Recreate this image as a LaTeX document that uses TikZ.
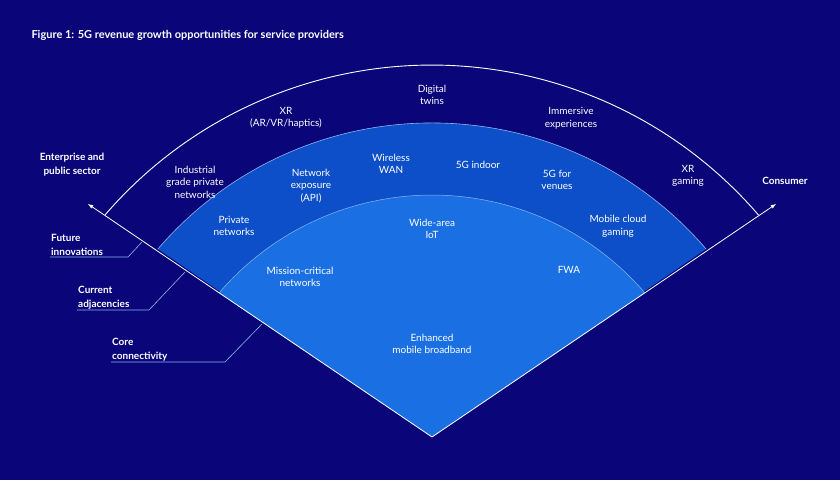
\documentclass[tikz,border=0pt]{standalone}
\usepackage{fontspec}
\setmainfont{Lato}
\usepackage{tikz}
\usetikzlibrary{positioning,calc}
\definecolor{navy}{HTML}{0A0578}
\definecolor{midblue}{HTML}{0C4FC8}
\definecolor{litblue}{HTML}{1A70E2}
\definecolor{edge}{HTML}{8FB4F0}

\begin{document}
\begin{tikzpicture}[x=1pt,y=-1pt,
  lbl/.style={text=white, align=center, font=\fontsize{10}{12.5}\selectfont},
  side/.style={text=white, align=left, font=\bfseries\fontsize{10}{14}\selectfont, inner sep=1pt},
  lead/.style={draw=edge, line width=0.6pt}]
\fill[navy] (0,0) rectangle (840,480);
\useasboundingbox (0,0) rectangle (840,480);

\node[anchor=west, text=white, font=\bfseries\fontsize{11}{13}\selectfont] (title) at (28,35) {Figure 1: 5G revenue growth opportunities for service providers};

% Sectors
\coordinate (apex) at (432,437);
\draw[white, line width=0.9pt] (105,215) arc[start angle=-139.3, end angle=-40.7, radius=431];
\fill[midblue] (apex) -- (157.9,249) arc[start angle=-139.4, end angle=-40.6, radius=361] -- cycle;
\draw[edge, line width=0.6pt] (157.9,249) arc[start angle=-139.4, end angle=-40.6, radius=361];
\fill[litblue] (apex) -- (219,293) arc[start angle=-139.4, end angle=-40.6, radius=280.5] -- cycle;
\draw[edge, line width=0.5pt] (219,293) arc[start angle=-139.4, end angle=-40.6, radius=280.5];

% Axes
\coordinate (lefttip) at (88,204);
\coordinate (righttip) at (776,204);
\draw[white, line width=0.8pt, -latex] (apex) -- (lefttip);
\draw[white, line width=0.8pt, -latex] (apex) -- (righttip);

\node[side, align=center] (enterprise) at (72,165) {Enterprise and\\public sector};
\node[side] (consumer) at (785,181) {Consumer};

% Ring labels
\node[lbl] (xr) at (286,118) {XR\\(AR/VR/haptics)};
\node[lbl] (twins) at (432,95) {Digital\\twins};
\node[lbl] (immersive) at (571,118) {Immersive\\experiences};
\node[lbl] (industrial) at (195,182) {Industrial\\grade private\\networks};
\node[lbl] (xrgaming) at (688,176) {XR\\gaming};
\node[lbl] (exposure) at (311,186) {Network\\exposure\\(API)};
\node[lbl] (wan) at (391,164) {Wireless\\WAN};
\node[lbl] (indoor) at (478,165) {5G indoor};
\node[lbl] (venues) at (557,180) {5G for\\venues};
\node[lbl] (private) at (234,226) {Private\\networks};
\node[lbl] (cloudgaming) at (618,226) {Mobile cloud\\gaming};
\node[lbl] (iot) at (432,229) {Wide-area\\IoT};
\node[lbl] (mission) at (300,277) {Mission-critical\\networks};
\node[lbl] (fwa) at (569,270) {FWA};
\node[lbl] (embb) at (432,344) {Enhanced\\mobile broadband};

% Leaders
\node[side, anchor=south west] (future) at (50,257) {Future\\innovations};
\node[side, anchor=south west] (current) at (77,310) {Current\\adjacencies};
\node[side, anchor=south west] (core) at (111,362) {Core\\connectivity};
\coordinate (futurept) at (142,242);
\coordinate (currentpt) at (185,272);
\coordinate (corept) at (262,324);
\draw[lead] (future.south west) -- ++(78,0) -- (futurept);
\draw[lead] (current.south west) -- ++(72,0) -- (currentpt);
\draw[lead] (core.south west) -- ++(114,0) -- (corept);
\end{tikzpicture}
\end{document}
